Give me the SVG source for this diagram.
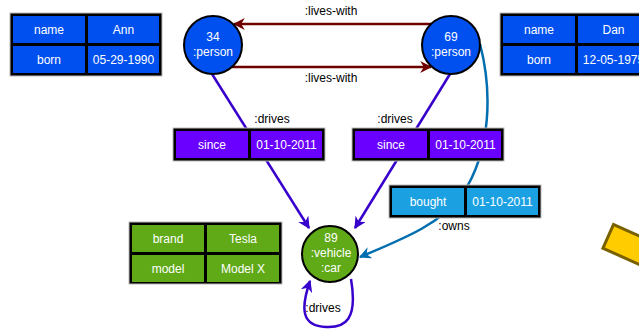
<svg xmlns="http://www.w3.org/2000/svg" width="639" height="329" viewBox="0 0 639 329">
<style>
text{font-family:"Liberation Sans",Arial,sans-serif;font-size:12px;text-anchor:middle}
.w{fill:#ffffff}
.k{fill:#000000}
.frame{fill:#000000;stroke:#bbbbbb;stroke-width:1}
.blue{fill:#0050ef}
.ind{fill:#6a00ff}
.grn{fill:#60a917}
.lb{fill:#1ba1e2}
.node{stroke:#000000;stroke-width:2}
.e{fill:none;stroke-width:2.5}
.red{stroke:#6f0000}
.drv{stroke:#3700cc}
.own{stroke:#006eaf}
</style>
<defs>
<marker id="aRed" viewBox="0 0 10 10" refX="9" refY="5" markerWidth="12" markerHeight="12" markerUnits="userSpaceOnUse" orient="auto"><path d="M0,0 L10,5 L0,10 L3,5 z" fill="#6f0000"/></marker>
<marker id="aDrv" viewBox="0 0 10 10" refX="9" refY="5" markerWidth="12" markerHeight="12" markerUnits="userSpaceOnUse" orient="auto"><path d="M0,0 L10,5 L0,10 L3,5 z" fill="#3700cc"/></marker>
<marker id="aOwn" viewBox="0 0 10 10" refX="9" refY="5" markerWidth="12" markerHeight="12" markerUnits="userSpaceOnUse" orient="auto"><path d="M0,0 L10,5 L0,10 L3,5 z" fill="#006eaf"/></marker>
</defs>

<g id="connectors">
<path class="e red" d="M431,24 L234,24" marker-end="url(#aRed)"/>
<text class="k" x="331" y="15">:lives-with</text>
<path class="e red" d="M232,67 L431,67" marker-end="url(#aRed)"/>
<text class="k" x="331" y="82">:lives-with</text>
<path class="e drv" d="M212,74 L309,228" marker-end="url(#aDrv)"/>
<text class="k" x="272" y="123">:drives</text>
<path class="e drv" d="M450,74 L355,228" marker-end="url(#aDrv)"/>
<text class="k" x="395" y="123">:drives</text>
<path class="e own" d="M480,44 C492,90 492,150 462,195 C440,225 400,240 360,257" marker-end="url(#aOwn)"/>
<text class="k" x="454" y="230">:owns</text>
<path class="e drv" d="M351,279 C358,320 345,328 326,327 C302,326 300,310 310,281" marker-end="url(#aDrv)"/>
<text class="k" x="323" y="312">:drives</text>
</g>

<g id="ann-props">
<rect class="frame" x="10" y="13" width="152" height="63"/>
<rect class="blue" x="13" y="16" width="72" height="27"/>
<rect class="blue" x="88" y="16" width="71" height="27"/>
<rect class="blue" x="13" y="46" width="72" height="27"/>
<rect class="blue" x="88" y="46" width="71" height="27"/>
<text class="w" x="49" y="34">name</text>
<text class="w" x="123.5" y="34">Ann</text>
<text class="w" x="49" y="64">born</text>
<text class="w" x="123.5" y="64">05-29-1990</text>
</g>

<g id="dan-props">
<rect class="frame" x="500" y="13" width="152" height="63"/>
<rect class="blue" x="503" y="16" width="72" height="27"/>
<rect class="blue" x="578" y="16" width="71" height="27"/>
<rect class="blue" x="503" y="46" width="72" height="27"/>
<rect class="blue" x="578" y="46" width="71" height="27"/>
<text class="w" x="539" y="34">name</text>
<text class="w" x="613.5" y="34">Dan</text>
<text class="w" x="539" y="64">born</text>
<text class="w" x="613.5" y="64">12-05-1975</text>
</g>

<g id="person34">
<circle class="blue node" cx="213" cy="45" r="29"/>
<text class="w" x="213" y="41">34</text>
<text class="w" x="213" y="56">:person</text>
</g>

<g id="person69">
<circle class="blue node" cx="451" cy="45" r="29"/>
<text class="w" x="451" y="41">69</text>
<text class="w" x="451" y="56">:person</text>
</g>

<g id="drives1-props">
<rect class="frame" x="173" y="128" width="152" height="33"/>
<rect class="ind" x="176" y="131" width="72" height="27"/>
<rect class="ind" x="251" y="131" width="71" height="27"/>
<text class="w" x="212" y="149">since</text>
<text class="w" x="286.5" y="149">01-10-2011</text>
</g>

<g id="drives2-props">
<rect class="frame" x="352" y="128" width="152" height="33"/>
<rect class="ind" x="355" y="131" width="72" height="27"/>
<rect class="ind" x="430" y="131" width="71" height="27"/>
<text class="w" x="391" y="149">since</text>
<text class="w" x="465.5" y="149">01-10-2011</text>
</g>

<g id="owns-props">
<rect class="frame" x="389" y="185" width="152" height="33"/>
<rect class="lb" x="392" y="188" width="72" height="27"/>
<rect class="lb" x="467" y="188" width="71" height="27"/>
<text class="w" x="428" y="206">bought</text>
<text class="w" x="502.5" y="206">01-10-2011</text>
</g>

<g id="car-props">
<rect class="frame" x="129" y="222" width="153" height="62"/>
<rect class="grn" x="132" y="225" width="72" height="27"/>
<rect class="grn" x="207" y="225" width="72" height="27"/>
<rect class="grn" x="132" y="255" width="72" height="27"/>
<rect class="grn" x="207" y="255" width="72" height="27"/>
<text class="w" x="168" y="243">brand</text>
<text class="w" x="243" y="243">Tesla</text>
<text class="w" x="168" y="273">model</text>
<text class="w" x="243" y="273">Model X</text>
</g>

<g id="vehicle89">
<circle class="grn node" cx="330" cy="254" r="28"/>
<text class="w" x="331" y="242">89</text>
<text class="w" x="331" y="257">:vehicle</text>
<text class="w" x="331" y="272">:car</text>
</g>

<g id="yellow-shape">
<rect x="0" y="0" width="62" height="26" transform="translate(613.5,224.5) rotate(24)" fill="#ffcc00" stroke="#7a6100" stroke-width="3"/>
</g>
</svg>
